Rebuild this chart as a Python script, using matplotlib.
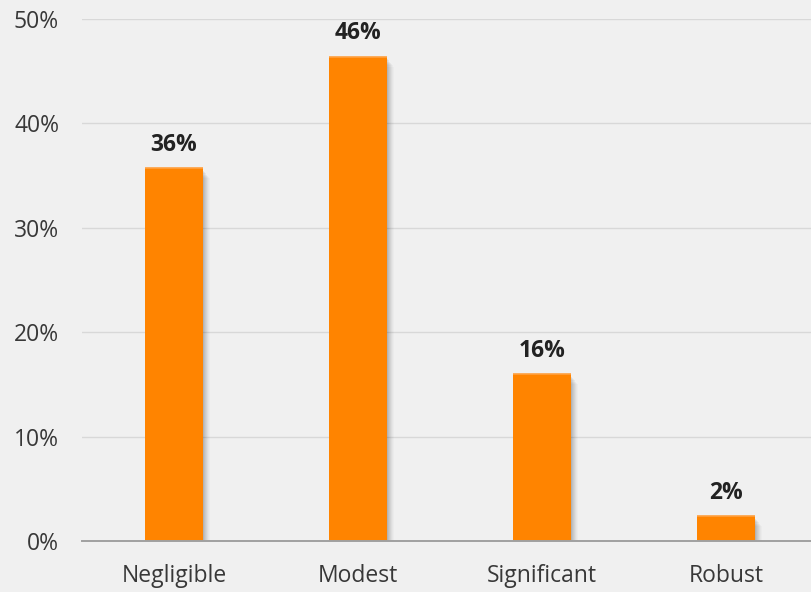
import matplotlib
matplotlib.use("Agg")
import matplotlib.pyplot as plt
from matplotlib.patches import Rectangle
from matplotlib.ticker import FuncFormatter

categories = ["Negligible", "Modest", "Significant", "Robust"]
values = [35.7, 46.4, 16.0, 2.4]
yticks = [0, 10, 20, 30, 40, 50]

BG = "#f0f0f0"
BAR = "#ff8400"

plt.rcParams["font.family"] = ["Open Sans", "DejaVu Sans"]

fig = plt.figure(figsize=(8.12, 5.92), dpi=100, facecolor=BG)
ax = fig.add_axes([82 / 812, (592 - 541) / 592, (818 - 82) / 812, (541 - 19) / 592])
ax.set_facecolor(BG)

x = list(range(len(categories)))
width = 0.315

# soft drop shadow to the right of each bar
for i, v in zip(x, values):
    for k, a in enumerate([0.06, 0.05, 0.045, 0.04, 0.03, 0.025, 0.02]):
        off = 0.0055 * (k + 1)
        ax.add_patch(Rectangle((i - width / 2 + off, 0), width, max(v - 0.25 - 0.12 * k, 0.3),
                               facecolor="#000000", alpha=a, linewidth=0, zorder=2))

ax.bar(x, values, width=width, color=BAR, zorder=3)
# faint highlight along each bar's top edge
for i, v in zip(x, values):
    ax.plot([i - width / 2, i + width / 2], [v, v], color="#ffa040", lw=1.2,
            solid_capstyle="butt", zorder=3.5)

for i, v in zip(x, values):
    ax.annotate(f"{v:.0f}%", (i, v), xytext=(0, 8), textcoords="offset points",
                ha="center", va="bottom", fontsize=16.5, fontweight="bold",
                color="#222222", zorder=4)

ax.set_xlim(-0.5, len(categories) - 0.5)
ax.set_ylim(0, 50)
ax.set_yticks(yticks)
ax.yaxis.set_major_formatter(FuncFormatter(lambda v, p: f"{v:.0f}%"))
ax.set_xticks(x)
ax.set_xticklabels(categories)
ax.tick_params(axis="both", length=0, labelsize=16.5, labelcolor="#383838")
ax.tick_params(axis="y", pad=16.5)
ax.tick_params(axis="x", pad=16.5)
ax.grid(axis="y", color="#d8d8d8", linewidth=1, zorder=0)
ax.set_axisbelow(True)
for s in ["top", "right", "left"]:
    ax.spines[s].set_visible(False)
ax.spines["bottom"].set_color("#a0a0a0")
ax.spines["bottom"].set_linewidth(1.4)
ax.spines["bottom"].set_zorder(5)

fig.savefig("out.png", dpi=100, facecolor=BG)
